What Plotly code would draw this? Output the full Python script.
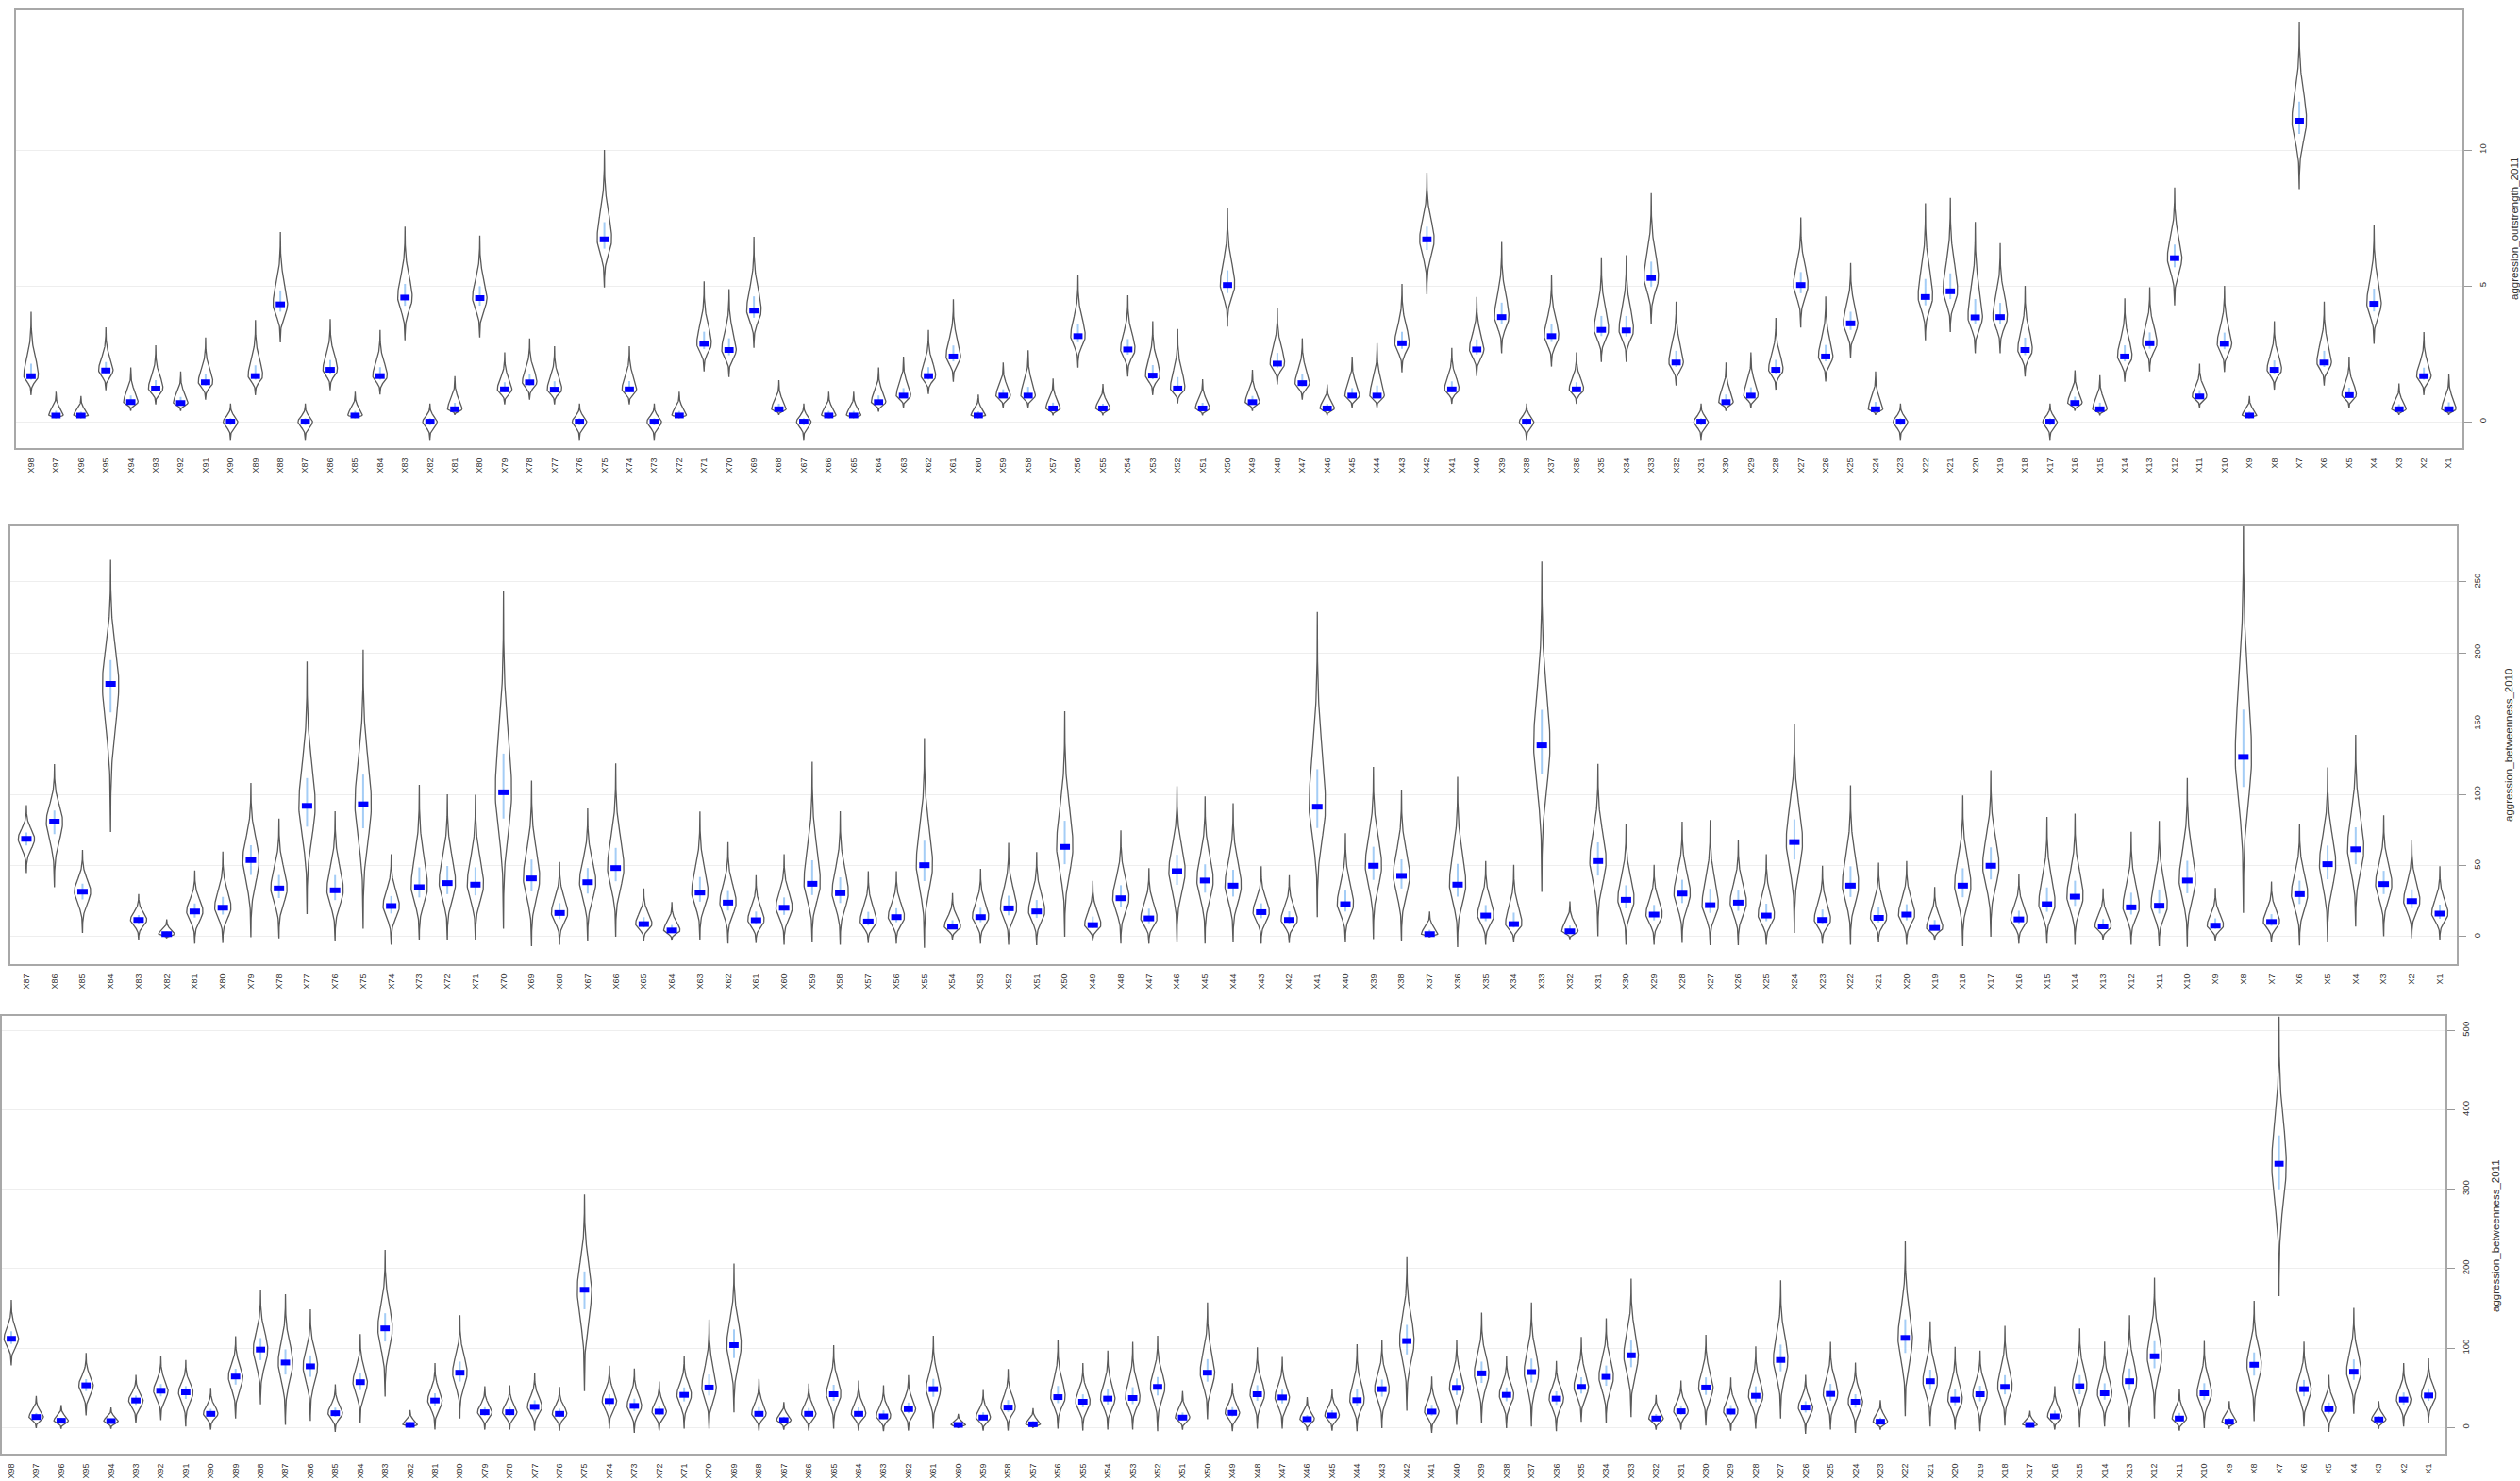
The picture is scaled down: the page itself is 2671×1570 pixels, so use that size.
import numpy as np
import plotly.graph_objects as go

# ---------------- data ----------------
cats_98 = ["X%d" % i for i in range(98, 0, -1)]
cats_87 = ["X%d" % i for i in range(87, 0, -1)]

# Panel 1: aggression_outstrength_2011 (X98 ... X1)
out11_med = [1.68, 0.23, 0.23, 1.89, 0.72, 1.22, 0.69, 1.45, 0.00, 1.68,
             4.32, 0.00, 1.91, 0.23, 1.68, 4.57, 0.00, 0.46, 4.55, 1.19,
             1.45, 1.18, 0.00, 6.71, 1.19, 0.00, 0.23, 2.87, 2.64, 4.09,
             0.46, 0.00, 0.23, 0.23, 0.72, 0.96, 1.68, 2.40, 0.23, 0.96,
             0.96, 0.49, 3.15, 0.49, 2.66, 1.70, 1.22, 0.49, 5.03, 0.72,
             2.14, 1.42, 0.49, 0.96, 0.96, 2.89, 6.71, 1.19, 2.66, 3.85,
             0.00, 3.15, 1.19, 3.38, 3.36, 5.29, 2.18, 0.00, 0.72, 0.96,
             1.91, 5.03, 2.40, 3.62, 0.46, 0.00, 4.59, 4.80, 3.84, 3.85,
             2.64, 0.00, 0.69, 0.46, 2.40, 2.89, 6.02, 0.93, 2.87, 0.23,
             1.91, 11.08, 2.18, 0.98, 4.34, 0.46, 1.68, 0.46]
out11_lo = [0.98, 0.14, 0.14, 1.16, 0.40, 0.64, 0.40, 0.81, -0.67, 0.98,
            2.92, -0.67, 1.16, 0.14, 1.00, 3.00, -0.67, 0.25, 3.10, 0.64,
            0.81, 0.64, -0.67, 4.94, 0.64, -0.67, 0.14, 1.85, 1.64, 2.72,
            0.25, -0.67, 0.14, 0.14, 0.37, 0.52, 1.02, 1.47, 0.14, 0.52,
            0.52, 0.23, 1.99, 0.23, 1.66, 0.98, 0.67, 0.23, 3.50, 0.40,
            1.37, 0.81, 0.23, 0.52, 0.52, 1.82, 4.69, 0.66, 1.68, 2.52,
            -0.67, 2.03, 0.66, 2.20, 2.20, 3.59, 1.33, -0.67, 0.40, 0.50,
            1.18, 3.47, 1.48, 2.35, 0.25, -0.67, 3.00, 3.30, 2.52, 2.52,
            1.66, -0.67, 0.40, 0.23, 1.47, 1.85, 4.28, 0.52, 1.83, 0.14,
            1.18, 8.56, 1.33, 0.50, 2.87, 0.25, 0.98, 0.25]
out11_hi = [4.05, 1.10, 0.95, 3.47, 2.00, 2.81, 1.85, 3.10, 0.67, 3.74,
            6.98, 0.67, 3.78, 1.10, 3.38, 7.18, 0.67, 1.68, 6.85, 2.55,
            3.07, 2.78, 0.67, 10.00, 2.78, 0.67, 1.10, 5.17, 4.88, 6.81,
            1.53, 0.67, 1.10, 1.10, 2.00, 2.40, 3.38, 4.51, 1.00, 2.18,
            2.63, 1.59, 5.38, 1.39, 4.65, 3.70, 3.41, 1.56, 7.85, 1.91,
            4.17, 3.07, 1.37, 2.40, 2.89, 5.07, 9.17, 2.72, 4.59, 6.62,
            0.67, 5.38, 2.55, 6.05, 6.13, 8.41, 4.42, 0.67, 2.18, 2.55,
            3.82, 7.52, 4.61, 5.84, 1.85, 0.67, 8.04, 8.24, 7.35, 6.57,
            5.00, 0.67, 1.89, 1.71, 4.54, 4.95, 8.62, 2.14, 5.00, 0.95,
            3.70, 14.72, 4.42, 2.40, 7.23, 1.41, 3.30, 1.76]

# Panel 2: aggression_betweenness_2010 (X87 ... X1)
bet10_med = [68.9, 81.1, 31.8, 178.2, 11.8, 1.8, 17.8, 20.4, 54.0, 34.0,
             92.2, 32.7, 93.3, 21.6, 34.9, 37.8, 36.7, 101.8, 41.1, 16.7,
             38.4, 48.4, 8.9, 4.4, 31.1, 24.0, 11.6, 20.4, 37.3, 30.7,
             10.7, 13.8, 50.4, 7.1, 13.8, 20.0, 17.8, 63.3, 8.2, 27.1,
             12.9, 46.2, 39.6, 36.0, 17.3, 11.8, 91.6, 22.9, 50.0, 42.9,
             1.8, 36.7, 14.9, 8.9, 134.9, 3.8, 53.3, 26.0, 15.6, 30.4,
             22.2, 24.0, 14.9, 66.7, 11.8, 36.0, 13.3, 15.6, 6.2, 36.0,
             50.0, 12.2, 22.9, 28.2, 7.3, 20.7, 21.8, 39.6, 7.8, 126.7,
             10.4, 30.0, 51.1, 61.6, 37.1, 25.1, 16.2]
bet10_lo = [44.9, 34.9, 2.7, 73.8, -2.2, -1.1, -4.9, -4.4, -0.4, -1.1,
            16.0, -3.3, 5.6, -5.6, -2.7, -2.7, -2.7, 5.6, -6.7, -5.6,
            -3.3, 0.0, -3.3, -2.7, -2.2, -4.9, -4.4, -5.6, -4.0, -5.6,
            -4.4, -4.9, -7.8, -2.2, -4.9, -5.6, -6.0, 0.0, -3.3, -4.9,
            -4.9, -4.0, -4.9, -4.0, -4.9, -4.4, 13.8, -4.0, -1.6, -3.3,
            -0.4, -7.3, -5.6, -4.0, 31.6, -1.8, 0.4, -5.6, -5.6, -4.4,
            -6.0, -6.0, -5.6, 2.7, -4.9, -5.6, -4.0, -5.6, -2.7, -6.7,
            0.0, -4.9, -4.9, -5.6, -2.7, -5.6, -6.7, -7.1, -3.3, 16.7,
            -4.0, -6.2, -4.0, 7.1, 0.4, -1.1, -2.2]
bet10_hi = [92.7, 121.6, 61.1, 265.6, 30.0, 12.2, 46.7, 60.0, 108.4, 83.3,
            194.0, 88.4, 202.2, 58.2, 107.1, 100.4, 100.0, 243.3, 110.0, 52.7,
            90.4, 122.2, 34.0, 24.4, 88.2, 66.7, 43.3, 58.2, 123.3, 88.4,
            46.2, 46.2, 140.0, 30.7, 47.8, 66.2, 59.6, 158.9, 39.3, 74.9,
            48.4, 106.0, 98.9, 94.0, 49.6, 43.3, 228.9, 72.9, 119.6, 103.3,
            17.8, 112.7, 53.3, 50.7, 264.4, 24.9, 121.8, 79.3, 50.7, 81.1,
            82.2, 68.2, 58.2, 150.0, 50.0, 106.7, 52.2, 53.3, 35.1, 99.6,
            117.3, 43.8, 84.4, 86.7, 34.0, 74.0, 81.6, 111.8, 34.4, 300.0,
            38.9, 79.3, 119.3, 142.2, 85.6, 68.2, 49.6]

# Panel 3: aggression_betweenness_2011 (X98 ... X1)
bet11_med = [111.6, 13.1, 8.4, 53.0, 8.0, 33.9, 46.2, 44.2, 17.1, 64.1,
             98.0, 81.7, 76.9, 17.9, 57.0, 124.7, 3.2, 33.9, 68.9, 19.1,
             19.1, 25.9, 17.1, 173.3, 33.1, 27.1, 19.9, 41.0, 50.2, 103.6,
             17.1, 9.2, 17.1, 41.8, 17.1, 13.9, 23.1, 48.2, 3.2, 12.4,
             25.1, 4.0, 38.2, 32.3, 36.3, 37.1, 51.0, 12.4, 68.9, 18.3,
             41.8, 37.8, 10.4, 15.1, 34.3, 48.2, 108.8, 19.9, 49.8, 68.1,
             41.0, 69.7, 36.3, 51.0, 63.7, 90.8, 11.2, 20.3, 50.2, 19.9,
             39.8, 84.9, 25.1, 42.2, 32.3, 7.2, 112.7, 58.2, 35.1, 41.8,
             51.0, 3.2, 13.9, 51.8, 43.0, 58.2, 89.6, 11.2, 43.0, 7.2,
             78.9, 331.9, 48.2, 23.1, 70.1, 10.0, 35.1, 40.2]
bet11_lo = [78.1, -0.8, -1.6, 15.1, -1.6, 5.2, 9.2, 1.2, -2.8, 11.2,
            29.1, 3.2, 8.4, -5.6, 5.2, 39.0, 0.0, -2.8, 11.2, -2.8,
            -2.8, -4.0, -4.0, 45.8, -1.6, -6.8, -4.0, -1.6, -1.6, 19.1,
            -4.0, -2.8, -4.0, -1.6, -4.0, -4.8, -4.0, -1.6, -0.8, -4.0,
            -4.0, -0.8, -1.6, -4.0, -2.8, -2.8, -4.8, -2.8, 10.4, -4.8,
            -1.6, -1.6, -4.0, -4.0, -4.8, -0.8, 21.1, -6.8, 3.2, 5.2,
            -0.8, 1.2, -4.8, 7.2, 5.2, 13.1, -2.8, -2.8, 2.4, -4.0,
            -1.6, 11.2, -8.0, -2.8, -6.8, -2.8, 14.3, 1.2, -2.8, -4.8,
            2.4, 0.0, -2.8, 0.0, 1.2, 0.0, 11.2, -4.0, -0.8, -1.6,
            8.0, 165.3, 1.2, -5.6, 17.1, -1.6, 1.2, 5.2]
bet11_hi = [160.6, 39.8, 28.3, 93.6, 25.1, 66.1, 89.6, 84.9, 49.8, 114.7,
            173.3, 167.7, 148.6, 54.2, 117.5, 223.5, 21.9, 80.9, 141.4, 51.8,
            53.0, 68.9, 51.0, 293.2, 77.7, 74.1, 57.8, 89.6, 135.9, 206.4,
            61.0, 31.9, 55.0, 103.6, 59.0, 53.0, 65.7, 115.5, 17.1, 47.0,
            73.7, 24.3, 110.8, 80.9, 96.8, 107.6, 115.5, 45.8, 157.4, 55.8,
            100.8, 88.8, 38.2, 49.0, 104.8, 110.8, 214.3, 64.1, 110.8, 144.6,
            89.6, 157.4, 83.7, 113.9, 137.5, 187.3, 41.0, 59.0, 116.7, 62.9,
            102.0, 185.3, 66.1, 107.6, 81.7, 34.3, 234.3, 133.5, 101.6, 96.8,
            127.9, 21.1, 51.8, 124.7, 108.0, 141.4, 188.4, 48.2, 108.8, 33.1,
            159.4, 517.1, 108.0, 66.1, 150.6, 33.1, 80.9, 86.9]

panel_titles = ["aggression_outstrength_2011", "aggression_betweenness_2010",
                "aggression_betweenness_2011"]
ytick_sets = [[0, 5, 10], [0, 50, 100, 150, 200, 250], [0, 100, 200, 300, 400, 500]]

# ---------------- layout geometry ----------------
W_PX, H_PX = 2671, 1570
panels = [
    dict(cats=cats_98, med=out11_med, lo=out11_lo, hi=out11_hi,
         xpx=(15.5, 2610), ypx=(11, 475), xr=[98.586, 0.452], yr=[-0.97, 15.14],
         tpx=(2665, 243)),
    dict(cats=cats_87, med=bet10_med, lo=bet10_lo, hi=bet10_hi,
         xpx=(8.6, 2604), ypx=(558, 1022), xr=[87.584, 0.395], yr=[-19.3, 289.2],
         tpx=(2659, 790)),
    dict(cats=cats_98, med=bet11_med, lo=bet11_lo, hi=bet11_hi,
         xpx=(0, 2592), ypx=(1077, 1541), xr=[98.378, 0.32], yr=[-33, 518],
         tpx=(2645, 1310)),
]

HALF_W = 0.29     # violin max half width (x units)
MED_HW = 0.185    # half width of median bar
K = 3.5

fig = go.Figure()
layout = dict(width=W_PX, height=H_PX, margin=dict(l=0, r=0, t=0, b=0),
              paper_bgcolor="white", plot_bgcolor="white", showlegend=False,
              font=dict(family="Liberation Sans, Arial, sans-serif", color="#333"))
annotations = []

for k, p in enumerate(panels):
    ax = "" if k == 0 else str(k + 1)
    xs_v, ys_v, xs_q, ys_q, xs_m, ys_m = [], [], [], [], [], []
    for c, m, lo, hi in zip(p["cats"], p["med"], p["lo"], p["hi"]):
        x0 = int(c[1:])
        s_lo = max(m - lo, 1e-6) / K
        s_hi = max(hi - m, 1e-6) / K
        yy = np.concatenate([np.linspace(lo, m, 40), np.linspace(m, hi, 60)[1:]])
        ss = np.where(yy < m, s_lo, s_hi)
        ww = HALF_W * np.exp(-0.5 * ((yy - m) / ss) ** 2)
        xs_v += list(x0 + ww) + list(x0 - ww[::-1]) + [None]
        ys_v += list(yy) + list(yy[::-1]) + [None]
        xs_q += [x0, x0, None]
        ys_q += [m - 0.674 * s_lo, m + 0.674 * s_hi, None]
        xs_m += [x0 - MED_HW, x0 + MED_HW, None]
        ys_m += [m, m, None]
    xa, ya = "x" + ax, "y" + ax
    fig.add_trace(go.Scatter(x=xs_v, y=ys_v, mode="lines", fill="toself",
                             fillcolor="white", line=dict(color="#5a5a5a", width=1.3),
                             xaxis=xa, yaxis=ya, hoverinfo="skip"))
    fig.add_trace(go.Scatter(x=xs_q, y=ys_q, mode="lines",
                             line=dict(color="#a4cdf6", width=2),
                             xaxis=xa, yaxis=ya, hoverinfo="skip"))
    fig.add_trace(go.Scatter(x=xs_m, y=ys_m, mode="lines",
                             line=dict(color="#0000ff", width=6),
                             xaxis=xa, yaxis=ya, hoverinfo="skip"))

    x0p, x1p = p["xpx"]
    y0p, y1p = p["ypx"]
    layout["xaxis" + ax] = dict(
        domain=[x0p / W_PX, x1p / W_PX], range=p["xr"], anchor=ya,
        tickmode="array", tickvals=[int(c[1:]) for c in p["cats"]], ticktext=p["cats"],
        tickangle=-90, tickfont=dict(size=9, color="#333"), ticks="",
        ticklabelstandoff=5,
        showgrid=False, zeroline=False, showline=True, mirror=True,
        linecolor="#a8a8a8", linewidth=2)
    layout["yaxis" + ax] = dict(
        domain=[1 - y1p / H_PX, 1 - y0p / H_PX], range=p["yr"], anchor=xa,
        side="right", tickmode="array", tickvals=ytick_sets[k],
        tickangle=-90, tickfont=dict(size=9.5, color="#333"),
        ticks="outside", ticklen=8, tickcolor="#999", tickwidth=1,
        ticklabelstandoff=4,
        showgrid=True, gridcolor="#eeeeee", gridwidth=1, zeroline=False,
        showline=True, mirror=True, linecolor="#a8a8a8", linewidth=2)
    annotations.append(dict(text=panel_titles[k], xref="paper", yref="paper",
                            x=p["tpx"][0] / W_PX, y=1 - p["tpx"][1] / H_PX,
                            xanchor="center", yanchor="middle", textangle=-90,
                            showarrow=False, font=dict(size=11.5, color="#333")))

layout["annotations"] = annotations
fig.update_layout(**layout)
fig.write_html(
    "out.html",
    config={"displayModeBar": False},
    post_script="document.body.style.margin='0';document.body.style.overflow='hidden';",
)
